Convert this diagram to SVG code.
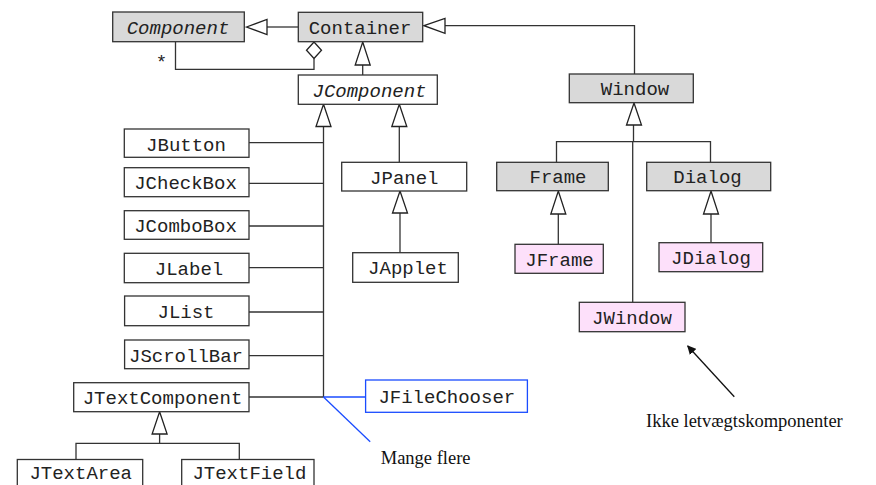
<svg xmlns="http://www.w3.org/2000/svg" width="876" height="485" viewBox="0 0 876 485">
<style>
.box{stroke:#333;stroke-width:1.3;fill:#fff}
.gray{fill:#d9d9d9}
.pink{fill:#fde0fa}
.t{font-family:"Liberation Mono","Courier New",monospace;font-size:19px;fill:#222;text-anchor:middle}
.it{font-style:italic}
.note{font-family:"Liberation Serif","Times New Roman",serif;font-size:18.5px;fill:#111}
.ln{stroke:#333;stroke-width:1.3;fill:none}
.tri{stroke:#222;stroke-width:1.3;fill:#fff}
.blue{stroke:#1a4cff}
</style>
<defs>
<marker id="ah" viewBox="0 0 10 10" refX="9" refY="5" markerWidth="9" markerHeight="9" markerUnits="userSpaceOnUse" orient="auto">
<path d="M0,0 L10,5 L0,10 z" fill="#111"/>
</marker>
</defs>
<g id="connectors">
<line class="ln" x1="267" y1="27" x2="298" y2="27"/>
<polygon class="tri" points="246.5,27 267,19.5 267,34.5"/>
<polyline class="ln" points="314,58.5 314,69.3 175.5,69.3 175.5,42"/>
<polygon class="tri" points="314,42 321.5,50.2 314,58.5 306.5,50.2"/>
<polyline class="ln" points="445,25.7 634.5,25.7 634.5,74"/>
<polygon class="tri" points="424,25.7 445,18.3 445,33.3"/>
<line class="ln" x1="362.7" y1="65" x2="362.7" y2="75"/>
<polygon class="tri" points="362.7,42 370.2,65 355.2,65"/>
<line class="ln" x1="323.5" y1="126.5" x2="323.5" y2="397"/>
<polygon class="tri" points="323.5,104.3 331,126.5 316,126.5"/>
<line class="ln" x1="249" y1="142.7" x2="323.5" y2="142.7"/>
<line class="ln" x1="249" y1="183.3" x2="323.5" y2="183.3"/>
<line class="ln" x1="249" y1="226" x2="323.5" y2="226"/>
<line class="ln" x1="249" y1="267.7" x2="323.5" y2="267.7"/>
<line class="ln" x1="249" y1="312" x2="323.5" y2="312"/>
<line class="ln" x1="249" y1="355.7" x2="323.5" y2="355.7"/>
<line class="ln" x1="249" y1="397" x2="323.5" y2="397"/>
<line class="ln blue" x1="323.5" y1="397" x2="366" y2="397"/>
<line class="ln blue" x1="323.5" y1="397" x2="370.2" y2="441.7"/>
<line class="ln" x1="399.3" y1="126.5" x2="399.3" y2="162.3"/>
<polygon class="tri" points="399.3,104.3 406.8,126.5 391.8,126.5"/>
<line class="ln" x1="400" y1="213" x2="400" y2="252.7"/>
<polygon class="tri" points="400,191 407.5,213 392.5,213"/>
<line class="ln" x1="159.6" y1="434" x2="159.6" y2="443.3"/>
<polyline class="ln" points="76,459.5 76,443.3 239.3,443.3 239.3,459.5"/>
<polygon class="tri" points="159.6,411.7 167.1,434 152.1,434"/>
<line class="ln" x1="633.5" y1="125" x2="633.5" y2="141.7"/>
<polyline class="ln" points="556.5,162.3 556.5,141.7 710.5,141.7 710.5,162.3"/>
<line class="ln" x1="632.7" y1="141.7" x2="632.7" y2="302.3"/>
<polygon class="tri" points="634,103 641.5,125 626.5,125"/>
<line class="ln" x1="558.3" y1="214" x2="558.3" y2="244.3"/>
<polygon class="tri" points="558.3,191 565.8,214 550.8,214"/>
<line class="ln" x1="711" y1="214" x2="711" y2="242.7"/>
<polygon class="tri" points="711,191 718.5,214 703.5,214"/>
<line x1="734.3" y1="396.7" x2="687.7" y2="346" stroke="#111" stroke-width="1.3" marker-end="url(#ah)"/>
</g>
<g id="Component"><rect class="box gray" x="112.7" y="12" width="131.6" height="29.7"/><text class="t it" x="178" y="33.5">Component</text></g>
<g id="Container"><rect class="box gray" x="298.3" y="12.3" width="124.4" height="29.4"/><text class="t" x="360" y="33.5">Container</text></g>
<text class="t" x="161.5" y="67.5">*</text>
<g id="JComponent"><rect class="box" x="298.3" y="75" width="139" height="29.3"/><text class="t it" x="369.5" y="96.5">JComponent</text></g>
<g id="Window"><rect class="box gray" x="569.3" y="74" width="124" height="28.7"/><text class="t" x="635" y="95.3">Window</text></g>
<g id="Frame"><rect class="box gray" x="496.7" y="162.3" width="111.6" height="28.4"/><text class="t" x="558" y="183.3">Frame</text></g>
<g id="Dialog"><rect class="box gray" x="646.7" y="162.3" width="124" height="28.4"/><text class="t" x="707.5" y="183.3">Dialog</text></g>
<g id="JFrame"><rect class="box pink" x="515" y="244.3" width="88.3" height="29"/><text class="t" x="559.5" y="265.5">JFrame</text></g>
<g id="JDialog"><rect class="box pink" x="659" y="242.7" width="103.7" height="29"/><text class="t" x="711" y="264">JDialog</text></g>
<g id="JWindow"><rect class="box pink" x="579.3" y="302.3" width="105.7" height="29.4"/><text class="t" x="632" y="323.5">JWindow</text></g>
<g id="JButton"><rect class="box" x="124.3" y="129" width="124.7" height="28.3"/><text class="t" x="186" y="150.5">JButton</text></g>
<g id="JCheckBox"><rect class="box" x="124.3" y="167.7" width="124.7" height="29"/><text class="t" x="185.5" y="189">JCheckBox</text></g>
<g id="JComboBox"><rect class="box" x="124.3" y="210.7" width="124.7" height="28.6"/><text class="t" x="185.5" y="232">JComboBox</text></g>
<g id="JLabel"><rect class="box" x="124.3" y="253.3" width="124.7" height="29.4"/><text class="t" x="189" y="274.5">JLabel</text></g>
<g id="JList"><rect class="box" x="124.6" y="296" width="124.4" height="29.7"/><text class="t" x="186" y="317.5">JList</text></g>
<g id="JScrollBar"><rect class="box" x="124.6" y="340" width="124.4" height="28.7"/><text class="t" x="186" y="361.5">JScrollBar</text></g>
<g id="JTextComponent"><rect class="box" x="73.7" y="382.7" width="175.3" height="29"/><text class="t" x="162.5" y="404">JTextComponent</text></g>
<g id="JTextArea"><rect class="box" x="17.3" y="459.5" width="125.4" height="30"/><text class="t" x="80.7" y="479.3">JTextArea</text></g>
<g id="JTextField"><rect class="box" x="181.7" y="459.5" width="132.3" height="30"/><text class="t" x="249.4" y="479.3">JTextField</text></g>
<g id="JPanel"><rect class="box" x="341.7" y="162.3" width="125" height="28.7"/><text class="t" x="404.3" y="183.5">JPanel</text></g>
<g id="JApplet"><rect class="box" x="352.7" y="252.7" width="105.6" height="29.6"/><text class="t" x="408" y="274">JApplet</text></g>
<g id="JFileChooser"><rect class="box blue" x="365.6" y="380" width="161.8" height="32.3"/><text class="t" x="446.8" y="403">JFileChooser</text></g>
<text class="note" x="380.7" y="464">Mange flere</text>
<text class="note" x="646" y="426.7">Ikke letvægtskomponenter</text>
</svg>
